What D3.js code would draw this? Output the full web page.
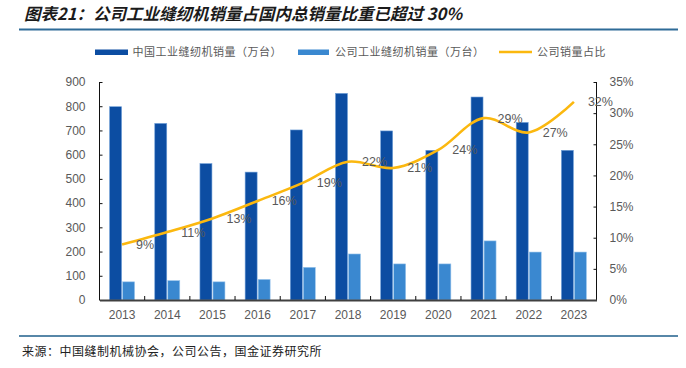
<!DOCTYPE html>
<html><head><meta charset="utf-8">
<script src="https://cdn.jsdelivr.net/npm/d3@7"></script>
<style>
html,body{margin:0;padding:0;background:#fff;}
svg{display:block;}
</style></head>
<body>
<svg id="c" width="686" height="368"></svg>
<script>
const years = ["2013","2014","2015","2016","2017","2018","2019","2020","2021","2022","2023"];
const chinaSales = [798, 729, 563, 528, 702, 853, 698, 618, 838, 733, 618];
const companySales = [75, 80, 75, 85, 135, 190, 149, 149, 244, 198, 198];
const shareRatio = [0.089, 0.109, 0.131, 0.159, 0.188, 0.222, 0.212, 0.241, 0.292, 0.269, 0.318];
const shareLabels = ["9%","11%","13%","16%","19%","22%","21%","24%","29%","27%","32%"];
const leftTicks = [0,100,200,300,400,500,600,700,800,900];
const rightTicks = [0,0.05,0.10,0.15,0.20,0.25,0.30,0.35];
const seriesNames = ["中国工业缝纫机销量（万台）","公司工业缝纫机销量（万台）","公司销量占比"];
const title = "图表21：公司工业缝纫机销量占国内总销量比重已超过 30%";
const source = "来源：中国缝制机械协会，公司公告，国金证券研究所";

const C_DARK = "#0C4DA2", C_LIGHT = "#3A88D0", C_LINE = "#FBB80F", C_TXT = "#595959";
const svg = d3.select("#c");
const X0 = 99.5, X1 = 596.5, Y0 = 300, Y1 = 82;

// title
svg.append("text").attr("x", 24).attr("y", 19.5)
  .attr("font-family", "'Noto Sans CJK SC', sans-serif").attr("font-size", 16.5)
  .attr("font-weight", "bold").attr("font-style", "italic").attr("fill", "#1b1b1b")
  .text(title);
svg.append("line").attr("x1", 19).attr("x2", 678).attr("y1", 29.5).attr("y2", 29.5)
  .attr("stroke", "#2E6B97").attr("stroke-width", 2);

// footer
svg.append("line").attr("x1", 19).attr("x2", 678).attr("y1", 336).attr("y2", 336)
  .attr("stroke", "#1F5F8B").attr("stroke-width", 1.5);
svg.append("text").attr("x", 22).attr("y", 356)
  .attr("font-family", "'Noto Sans CJK SC', sans-serif").attr("font-size", 12)
  .attr("letter-spacing", 0.5).attr("fill", "#222").text(source);

// scales
const x = d3.scaleBand().domain(years).range([X0, X1]).padding(0);
const xs = d3.scaleBand().domain([0,1]).range([0, 25]).paddingInner(0.08);
const yL = d3.scaleLinear().domain([0, 900]).range([Y0, Y1]);
const yR = d3.scaleLinear().domain([0, 0.35]).range([Y0, Y1]);

// bars
const g = svg.append("g");
years.forEach((yr, i) => {
  const c = x(yr) + x.bandwidth() / 2 - 12.5;
  g.append("rect").attr("x", c + xs(0)).attr("width", xs.bandwidth())
    .attr("y", yL(chinaSales[i])).attr("height", Y0 - yL(chinaSales[i]))
    .attr("fill", C_DARK).attr("stroke", "#6f9fd8").attr("stroke-width", 0.6);
  g.append("rect").attr("x", c + xs(1)).attr("width", xs.bandwidth())
    .attr("y", yL(companySales[i])).attr("height", Y0 - yL(companySales[i]))
    .attr("fill", C_LIGHT).attr("stroke", "#9cc6ec").attr("stroke-width", 0.6);
});

// left axis
const axL = svg.append("g").attr("transform", `translate(${X0},0)`)
  .call(d3.axisLeft(yL).tickValues(leftTicks).tickSize(-3).tickPadding(14).tickFormat(d3.format("d")));
axL.select(".domain").attr("stroke", "#111").attr("d", `M-0,${Y1}V${Y0}`);
axL.selectAll(".tick line").attr("stroke", "#111");
axL.selectAll("text").attr("font-family", "'Liberation Sans', Arial, sans-serif")
  .attr("font-size", 12).attr("fill", C_TXT);

// right axis
const axR = svg.append("g").attr("transform", `translate(${X1},0)`)
  .call(d3.axisRight(yR).tickValues(rightTicks).tickSize(-3).tickPadding(13).tickFormat(d3.format(".0%")));
axR.select(".domain").attr("stroke", "#111").attr("d", `M0,${Y1}V${Y0}`);
axR.selectAll(".tick line").attr("stroke", "#111");
axR.selectAll("text").attr("font-family", "'Liberation Sans', Arial, sans-serif")
  .attr("font-size", 12).attr("fill", C_TXT);

// bottom axis
const axB = svg.append("g").attr("transform", `translate(0,${Y0})`)
  .call(d3.axisBottom(x).tickSize(0).tickPadding(10));
axB.select(".domain").attr("stroke", "#404040").attr("stroke-width", 2);
axB.selectAll("text").attr("font-family", "'Liberation Sans', Arial, sans-serif")
  .attr("font-size", 12).attr("fill", C_TXT);
years.slice(1).forEach(yr => {
  svg.append("line").attr("x1", x(yr)).attr("x2", x(yr)).attr("y1", Y0).attr("y2", Y0 - 4)
    .attr("stroke", "#111").attr("stroke-width", 1);
});

// line
const pts = years.map((yr, i) => [x(yr) + x.bandwidth() / 2, yR(shareRatio[i])]);
svg.append("path").attr("d", d3.line().curve(d3.curveCatmullRom.alpha(0.5))(pts))
  .attr("fill", "none").attr("stroke", C_LINE).attr("stroke-width", 2.6);

// data labels
pts.forEach((p, i) => {
  svg.append("text").attr("x", p[0] + 14).attr("y", p[1] + 4.5)
    .attr("font-family", "'Liberation Sans', Arial, sans-serif").attr("font-size", 12.5)
    .attr("fill", C_TXT).text(shareLabels[i]);
});

// legend
const lg = svg.append("g").attr("font-family", "'Noto Sans CJK SC', sans-serif")
  .attr("font-size", 11).attr("fill", C_TXT);
lg.append("rect").attr("x", 95).attr("y", 49.5).attr("width", 33).attr("height", 5.5).attr("fill", C_DARK);
lg.append("text").attr("x", 132.5).attr("y", 56).attr("letter-spacing", 0.5).text(seriesNames[0]);
lg.append("rect").attr("x", 298).attr("y", 49.5).attr("width", 31).attr("height", 5.5).attr("fill", C_LIGHT);
lg.append("text").attr("x", 335).attr("y", 56).attr("letter-spacing", 0.5).text(seriesNames[1]);
lg.append("line").attr("x1", 499).attr("x2", 532).attr("y1", 52).attr("y2", 52)
  .attr("stroke", C_LINE).attr("stroke-width", 2.6);
lg.append("text").attr("x", 537).attr("y", 56).attr("letter-spacing", 0.5).text(seriesNames[2]);
</script>
</body></html>
